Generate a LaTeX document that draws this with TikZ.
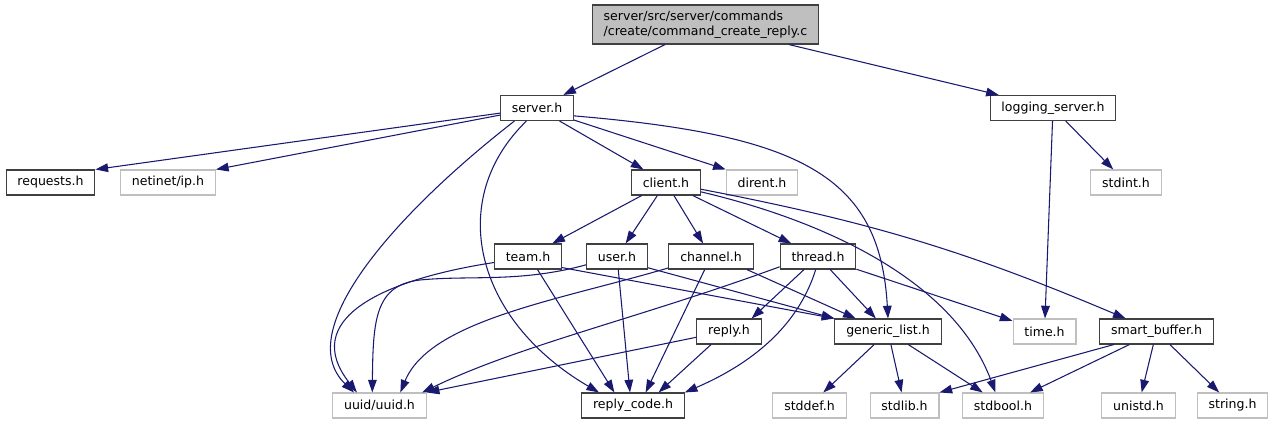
\documentclass[tikz,border=0pt]{standalone}
\usepackage{fontspec}
\newfontfamily\dejavu{DejaVu Sans}
\usepackage{tikz}
\usetikzlibrary{arrows.meta}

\definecolor{edgeblue}{HTML}{191970}
\definecolor{extgray}{HTML}{BFBFBF}
\definecolor{boxdark}{HTML}{404040}

\begin{document}
\begin{tikzpicture}[x=0.75pt,y=-0.75pt,>={Triangle[length=9.5pt,width=6.5pt]},
  font=\dejavu\fontsize{9.4}{11.25}\selectfont,
  hdr/.style={draw=boxdark,line width=0.8pt,fill=white,minimum height=18.75pt,inner xsep=8.5pt,inner ysep=0pt},
  sys/.style={hdr,draw=extgray},
  dep/.style={->,color=edgeblue,line width=0.8pt}]
\path[use as bounding box] (0,0) rectangle (1287,425);

% file being documented
\node[hdr,fill=extgray,align=left,minimum height=29.25pt] (root) at (705.5,24.5)
  {server/src/server/commands\\/create/command\_create\_reply.c};

% first level
\node[hdr] (server)  at (537,108)    {server.h};
\node[hdr] (logging) at (1053,108)   {logging\_server.h};

% second level
\node[hdr] (requests) at (50.5,182.5) {requests.h};
\node[sys] (netinet)  at (168,182.5)  {netinet/ip.h};
\node[hdr] (client)   at (666,182.5)  {client.h};
\node[sys] (dirent)   at (762,182.5)  {dirent.h};
\node[sys] (stdint)   at (1126,182.5) {stdint.h};

% third level
\node[hdr] (team)    at (528,256.5) {team.h};
\node[hdr] (user)    at (617,256.5) {user.h};
\node[hdr] (channel) at (711,256.5) {channel.h};
\node[hdr] (thread)  at (818,256.5) {thread.h};

% fourth level
\node[hdr] (reply)   at (729,331.5)    {reply.h};
\node[hdr] (generic) at (888,331.5)    {generic\_list.h};
\node[sys] (time)    at (1044.5,331.5) {time.h};
\node[hdr] (smart)   at (1156.5,331.5) {smart\_buffer.h};

% leaves
\node[sys] (uuid)      at (379.5,405.5)  {uuid/uuid.h};
\node[hdr] (replycode) at (633,405.5)    {reply\_code.h};
\node[sys] (stddef)    at (809.5,405.5)  {stddef.h};
\node[sys] (stdlib)    at (904.5,405.5)  {stdlib.h};
\node[sys] (stdbool)   at (1003,405.5)   {stdbool.h};
\node[sys] (unistd)    at (1138.5,405.5) {unistd.h};
\node[sys] (string)    at (1232.5,405.5) {string.h};

% straight includes
\foreach \a/\b in {root/server,root/logging,server/client,logging/time,logging/stdint,
  client/team,client/user,client/channel,client/thread,thread/generic,thread/time,
  generic/stddef,generic/stdlib,generic/stdbool,smart/stdbool,smart/unistd,smart/string}
  \draw[dep] (\a) -- (\b);

% server.h
\draw[dep] (server) -- (requests.north east);
\draw[dep] (server) -- (netinet.north east);
\draw[dep] (server) -- (dirent.north west);
\draw[dep] (server.-12) .. controls (800,135) and (880,175) .. (generic.north);
\draw[dep] (server.-150) .. controls (400,210) and (290,330) .. (uuid.153);
\draw[dep] (server.-129) .. controls (445,200) and (475,320) .. (replycode.159);

% client.h
\draw[dep] (client) to[bend left=6] (smart);
\draw[dep] (client.-15) .. controls (800,215) and (950,270) .. (stdbool.120);

% team.h, user.h, channel.h
\draw[dep] (team.190) .. controls (380,280) and (300,320) .. (uuid.150);
\draw[dep] (team.-54) -- (replycode.145);
\draw[dep] (team.-18) -- (generic.north west);
\draw[dep] (user.195) .. controls (520,283) and (470,275) .. (420,280)
  .. controls (375,285) and (373,320) .. (uuid.119);
\draw[dep] (user) -- (replycode.103);
\draw[dep] (user.-20) -- (generic.north west);
\draw[dep] (channel.195) .. controls (560,300) and (430,320) .. (uuid.32);
\draw[dep] (channel) -- (replycode.46);
\draw[dep] (channel.-20) -- (generic.158);

% thread.h
\draw[dep] (thread) -- (reply.30);
\draw[dep] (thread.195) .. controls (640,318) and (520,345) .. (uuid.17);
\draw[dep] (thread.-100) .. controls (800,320) and (760,360) .. (replycode.north east);

% reply.h, smart_buffer.h
\draw[dep] (reply.190) -- (uuid.north east);
\draw[dep] (reply.-144) -- (replycode.27);
\draw[dep] (smart.-163) -- (stdlib.north east);
\end{tikzpicture}
\end{document}
